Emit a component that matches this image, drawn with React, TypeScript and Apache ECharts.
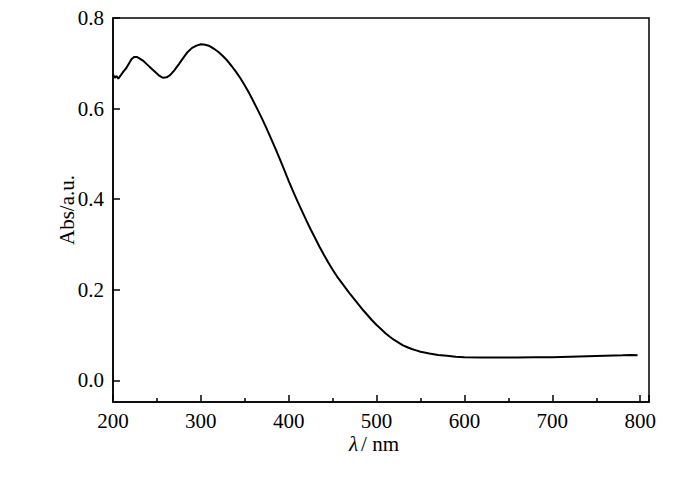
import React, { useEffect, useRef } from "react";
import * as echarts from "echarts";

const wavelengths = [
  200, 202, 204, 206, 209, 212, 215, 218, 221, 224, 227, 230, 234, 239, 244, 249, 253, 257, 261, 265,
  270, 275, 280, 285, 290, 295, 300, 305, 310, 315, 320, 325, 330, 335, 340, 345, 350, 355, 360, 365,
  370, 375, 380, 385, 390, 395, 400, 405, 410, 415, 420, 425, 430, 435, 440, 445, 450, 455, 460, 465,
  470, 475, 480, 485, 490, 495, 500, 505, 510, 515, 520, 525, 530, 535, 540, 545, 550, 560, 570, 580,
  590, 600, 620, 640, 660, 680, 700, 720, 740, 760, 780, 790, 797,
];
const absorbance = [
  0.675, 0.668, 0.672, 0.666, 0.674, 0.682, 0.689, 0.699, 0.709, 0.714, 0.714, 0.711, 0.706, 0.697, 0.688, 0.679, 0.672, 0.668, 0.669, 0.674,
  0.685, 0.698, 0.712, 0.725, 0.734, 0.739, 0.742, 0.741, 0.738, 0.732, 0.725, 0.716, 0.706, 0.694, 0.681, 0.667, 0.651, 0.634, 0.615, 0.596,
  0.576, 0.555, 0.533, 0.511, 0.488, 0.464, 0.44, 0.417, 0.395, 0.374, 0.353, 0.333, 0.314, 0.295, 0.277, 0.26, 0.244, 0.229, 0.216, 0.203,
  0.19, 0.178, 0.166, 0.154, 0.143, 0.132, 0.122, 0.113, 0.104, 0.096, 0.089, 0.083, 0.077, 0.073, 0.069, 0.066, 0.063, 0.059, 0.056, 0.054,
  0.052, 0.051, 0.05, 0.05, 0.05, 0.051, 0.051, 0.052, 0.053, 0.054, 0.055, 0.056, 0.055,
];
const yTicks = [0, 0.2, 0.4, 0.6, 0.8];

export default function App() {
  const ref = useRef<HTMLDivElement>(null);
  useEffect(() => {
    if (!ref.current) return;
    const chart = echarts.init(ref.current, null, { renderer: "svg" });
    const font = "'Liberation Serif', 'Times New Roman', serif";
    chart.setOption({
      animation: false,
      backgroundColor: "#fff",
      grid: {
        left: 113,
        right: 51,
        top: 18,
        bottom: 79,
        show: true,
        borderColor: "#000",
        borderWidth: 1.5,
        backgroundColor: "transparent",
      },
      xAxis: {
        type: "value",
        min: 200,
        max: 810,
        interval: 100,
        name: "{i|λ}/ nm",
        nameLocation: "middle",
        nameGap: 32,
        nameMoveOverlap: false,
        nameTextStyle: {
          fontFamily: font,
          fontSize: 21,
          lineHeight: 19,
          color: "#000",
          padding: [0, 14, 0, 0],
          rich: {
            i: { fontFamily: font, fontSize: 21, lineHeight: 19, fontStyle: "italic", color: "#000", padding: [0, 3, 0, 0] },
          },
        },
        axisLine: { show: true, onZero: false, lineStyle: { color: "#000", width: 1.5 } },
        axisTick: { show: true, inside: true, length: 7, lineStyle: { color: "#000", width: 1.5 } },
        minorTick: { show: true, splitNumber: 2, length: 4, lineStyle: { color: "#000", width: 1.5 } },
        axisLabel: {
          fontFamily: font,
          fontSize: 21,
          lineHeight: 19,
          color: "#000",
          margin: 9,
          showMaxLabel: false,
          formatter: (v: number) => (v % 100 === 0 && v <= 800 ? String(v) : ""),
        },
        splitLine: { show: false },
      },
      yAxis: {
        type: "value",
        min: -0.048,
        max: 0.8,
        name: "Abs/a.u.",
        nameLocation: "middle",
        nameGap: 36,
        nameMoveOverlap: false,
        nameTextStyle: { fontFamily: font, fontSize: 21, color: "#000" },
        axisLine: { show: true, onZero: false, lineStyle: { color: "#000", width: 1.5 } },
        axisTick: {
          show: true,
          inside: true,
          length: 7,
          customValues: yTicks,
          lineStyle: { color: "#000", width: 1.5 },
        },
        axisLabel: {
          fontFamily: font,
          fontSize: 21,
          color: "#000",
          margin: 9,
          customValues: yTicks,
          formatter: (v: number) => v.toFixed(1),
        },
        splitLine: { show: false },
      },
      series: [
        {
          type: "line",
          data: wavelengths.map((w, i) => [w, absorbance[i]]),
          showSymbol: false,
          smooth: false,
          lineStyle: { color: "#000", width: 2 },
        },
      ],
    });
    return () => chart.dispose();
  }, []);
  return (
    <div
      ref={ref}
      style={{ position: "fixed", left: 0, top: 0, width: 700, height: 481 }}
    />
  );
}
